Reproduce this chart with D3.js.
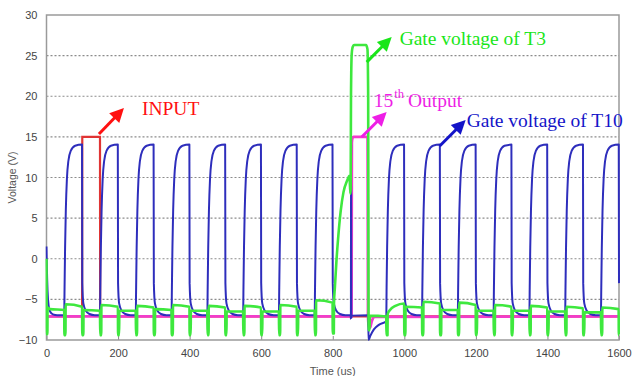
<!DOCTYPE html>
<html>
<head>
<meta charset="utf-8">
<script src="https://cdn.jsdelivr.net/npm/d3@7/dist/d3.min.js"></script>
<style>
  html, body { margin: 0; padding: 0; background: #fff; }
  svg { display: block; }
</style>
</head>
<body>
<svg id="chart" width="635" height="376"></svg>
<script>
// ---------------- DATA ----------------
const xTicks = [0, 200, 400, 600, 800, 1000, 1200, 1400, 1600];
const yTicks = [-10, -5, 0, 5, 10, 15, 20, 25, 30];
const yGrid  = [-5, 0, 5, 10, 15, 20, 25];
const xTitle = "Time (us)";
const yTitle = "Voltage (V)";

// INPUT (red)
const inputV = [[0,-7.1],[99.5,-7.1],[100,15],[149.5,15],[150,-7.1],[1600,-7.1]];

// 15th Output (magenta)
const output15 = [[0,-7.1],[852.5,-7.1],[853.3,14.3],[855,14.85],[858,15],[897.5,15],[898.5,-7],
  [900.5,-8.2],[904,-8.5],[909,-7.7],[916,-7.15],[1600,-7.1]];

// Gate voltage of T10 (blue)
const gateT10 = [
  [0,1.5],[1,-1],[3,-4],[6,-5.8],[10,-6.5],[18,-6.85],[30,-6.95],[49.5,-6.95],
  [50.5,-3.5],[52,1.5],[54,6],[57,9.8],[61,12],[68,13.3],[80,13.9],[99.3,14.05],[100,-3],[103,-5.5],[110,-6.4],[120,-6.8],[135,-6.95],[149.5,-6.95],
  [150.5,-3.5],[152,1.5],[154,6],[157,9.8],[161,12],[168,13.3],[180,13.9],[199.3,14.05],[200,-3],[203,-5.5],[210,-6.4],[220,-6.8],[235,-6.95],[249.5,-6.95],
  [250.5,-3.5],[252,1.5],[254,6],[257,9.8],[261,12],[268,13.3],[280,13.9],[299.3,14.05],[300,-3],[303,-5.5],[310,-6.4],[320,-6.8],[335,-6.95],[349.5,-6.95],
  [350.5,-3.5],[352,1.5],[354,6],[357,9.8],[361,12],[368,13.3],[380,13.9],[399.3,14.05],[400,-3],[403,-5.5],[410,-6.4],[420,-6.8],[435,-6.95],[449.5,-6.95],
  [450.5,-3.5],[452,1.5],[454,6],[457,9.8],[461,12],[468,13.3],[480,13.9],[499.3,14.05],[500,-3],[503,-5.5],[510,-6.4],[520,-6.8],[535,-6.95],[549.5,-6.95],
  [550.5,-3.5],[552,1.5],[554,6],[557,9.8],[561,12],[568,13.3],[580,13.9],[599.3,14.05],[600,-3],[603,-5.5],[610,-6.4],[620,-6.8],[635,-6.95],[649.5,-6.95],
  [650.5,-3.5],[652,1.5],[654,6],[657,9.8],[661,12],[668,13.3],[680,13.9],[699.3,14.05],[700,-3],[703,-5.5],[710,-6.4],[720,-6.8],[735,-6.95],[749.5,-6.95],
  [750.5,-3.5],[752,1.5],[754,6],[757,9.8],[761,12],[768,13.3],[780,13.9],[799.3,14.05],[800,-3],[803,-5.5],[810,-6.4],[820,-6.8],[835,-6.95],[850,-6.95],
  [850.7,-7.4],[851.2,14],[851.8,-7.3],[853,-7.0],[899.3,-6.95],[900,-10],[905,-9.5],[915,-8.7],[930,-8.1],[949.5,-7.7],
  [950.5,-3.5],[952,1.5],[954,6],[957,9.8],[961,12],[968,13.3],[980,13.9],[999.3,14.05],[1000,-3],[1003,-5.5],[1010,-6.4],[1020,-6.8],[1035,-6.95],[1049.5,-6.95],
  [1050.5,-3.5],[1052,1.5],[1054,6],[1057,9.8],[1061,12],[1068,13.3],[1080,13.9],[1099.3,14.05],[1100,-3],[1103,-5.5],[1110,-6.4],[1120,-6.8],[1135,-6.95],[1149.5,-6.95],
  [1150.5,-3.5],[1152,1.5],[1154,6],[1157,9.8],[1161,12],[1168,13.3],[1180,13.9],[1199.3,14.05],[1200,-3],[1203,-5.5],[1210,-6.4],[1220,-6.8],[1235,-6.95],[1249.5,-6.95],
  [1250.5,-3.5],[1252,1.5],[1254,6],[1257,9.8],[1261,12],[1268,13.3],[1280,13.9],[1299.3,14.05],[1300,-3],[1303,-5.5],[1310,-6.4],[1320,-6.8],[1335,-6.95],[1349.5,-6.95],
  [1350.5,-3.5],[1352,1.5],[1354,6],[1357,9.8],[1361,12],[1368,13.3],[1380,13.9],[1399.3,14.05],[1400,-3],[1403,-5.5],[1410,-6.4],[1420,-6.8],[1435,-6.95],[1449.5,-6.95],
  [1450.5,-3.5],[1452,1.5],[1454,6],[1457,9.8],[1461,12],[1468,13.3],[1480,13.9],[1499.3,14.05],[1500,-3],[1503,-5.5],[1510,-6.4],[1520,-6.8],[1535,-6.95],[1549.5,-6.95],
  [1550.5,-3.5],[1552,1.5],[1554,6],[1557,9.8],[1561,12],[1568,13.3],[1580,13.9],[1599.3,14.05],[1600,-3]
];

// Gate voltage of T3 (green)
const gateT3 = [
  [0,0],[0.5,-9.3],[2.5,-9.3],[3,-6.0],[10,-6.2],[49.5,-6.3],
  [50,-9.4],[53,-9.4],[53.5,-5.6],[99.5,-5.9],
  [100,-9.4],[103,-9.4],[103.5,-6.3],[149.5,-6.4],
  [150,-9.4],[153,-9.4],[153.5,-5.7],[199.5,-5.9],
  [200,-9.4],[203,-9.4],[203.5,-6.4],[249.5,-6.4],
  [250,-9.4],[253,-9.4],[253.5,-5.8],[299.5,-6.0],
  [300,-9.4],[303,-9.4],[303.5,-6.2],[349.5,-6.3],
  [350,-9.4],[353,-9.4],[353.5,-5.7],[399.5,-5.9],
  [400,-9.4],[403,-9.4],[403.5,-6.4],[449.5,-6.4],
  [450,-9.4],[453,-9.4],[453.5,-5.8],[499.5,-6.0],
  [500,-9.4],[503,-9.4],[503.5,-6.5],[549.5,-6.5],
  [550,-9.4],[553,-9.4],[553.5,-5.8],[599.5,-6.0],
  [600,-9.4],[603,-9.4],[603.5,-6.5],[649.5,-6.5],
  [650,-9.4],[653,-9.4],[653.5,-5.7],[699.5,-5.9],
  [700,-9.4],[703,-9.4],[703.5,-6.4],[749.5,-6.4],
  [750,-9.4],[753,-9.4],[753.5,-5.1],[799.5,-5.4],
  [800,-9.2],[803,-9.2],[803.5,-5.5],[806,-3.5],[810,-0.5],[815,2.5],[822,5.8],[830,8.2],[840,9.6],[847,10.2],
  [849,8],[850,8.5],[851,20],[853,25.2],[856,26.1],[860,26.3],[893,26.3],[897,25.8],[899,20],
  [900,-7],[900.5,-8.8],[903,-8.8],[903.5,-7.0],[949.5,-7.1],
  [950,-9.4],[953,-9.4],[953.5,-6.8],[960,-6.3],[975,-5.8],[999.5,-5.5],
  [1000,-9.4],[1003,-9.4],[1003.5,-5.9],[1049.5,-6.0],
  [1050,-9.4],[1053,-9.4],[1053.5,-5.3],[1099.5,-5.5],
  [1100,-9.4],[1103,-9.4],[1103.5,-6.3],[1149.5,-6.3],
  [1150,-9.4],[1153,-9.4],[1153.5,-5.4],[1199.5,-5.7],
  [1200,-9.4],[1203,-9.4],[1203.5,-6.4],[1249.5,-6.4],
  [1250,-9.4],[1253,-9.4],[1253.5,-5.7],[1299.5,-5.9],
  [1300,-9.4],[1303,-9.4],[1303.5,-6.4],[1349.5,-6.4],
  [1350,-9.4],[1353,-9.4],[1353.5,-5.8],[1399.5,-6.0],
  [1400,-9.4],[1403,-9.4],[1403.5,-6.5],[1449.5,-6.5],
  [1450,-9.4],[1453,-9.4],[1453.5,-5.9],[1499.5,-6.1],
  [1500,-9.4],[1503,-9.4],[1503.5,-6.6],[1549.5,-6.6],
  [1550,-9.4],[1553,-9.4],[1553.5,-6.0],[1599,-6.2],[1599.5,-9.4],[1600,-9.4]
];

// Annotation labels and arrows (in data units: time us, voltage V)
const labels = [
  { text: "INPUT", t: 266.7, v: 17.7, color: "#ff1010" },
  { text: "Gate voltage of T3", t: 986.9, v: 26.3, color: "#19e619" },
  { text: "Gate voltage of T10", t: 1174.2, v: 16.2, color: "#1414c8" }
];
const arrows = [
  { from: [146.6, 15.35], to: [216.4, 18.55], color: "#ff1010" },
  { from: [894.9, 24.2],  to: [964.7, 27.3],  color: "#19e619" },
  { from: [880.9, 14.98], to: [950.7, 18.06], color: "#ee1ee6" },
  { from: [1098.8, 13.88], to: [1171.4, 17.08], color: "#1414c8" }
];

// ---------------- DRAWING ----------------
const svg = d3.select("#chart");
const pLeft = 46.5, pRight = 619, pTop = 15, pBottom = 340;
const x = d3.scaleLinear().domain([0, 1600]).range([pLeft, pRight]);
const y = d3.scaleLinear().domain([-10, 30]).range([pBottom, pTop]);

svg.append("defs").append("clipPath").attr("id", "plotclip")
  .append("rect").attr("x", pLeft - 1).attr("y", pTop - 1)
  .attr("width", pRight - pLeft + 2).attr("height", pBottom - pTop + 2);

// gridlines
svg.append("g").selectAll("line").data(yGrid).join("line")
  .attr("x1", pLeft).attr("x2", pRight)
  .attr("y1", d => y(d)).attr("y2", d => y(d))
  .attr("stroke", "#8c8c8c").attr("stroke-width", 1.2)
  .attr("stroke-dasharray", "2,2");

// axes
const xAxis = d3.axisBottom(x).tickValues(xTicks).tickSize(-4).tickPadding(9).tickFormat(d3.format("d"));
const gx = svg.append("g").attr("transform", `translate(0,${pBottom})`).call(xAxis);
const yAxis = d3.axisLeft(y).tickValues(yTicks).tickSize(0).tickPadding(9).tickFormat(d3.format("d"));
const gy = svg.append("g").attr("transform", `translate(${pLeft},0)`).call(yAxis);
[gx, gy].forEach(g => {
  g.select(".domain").remove();
  g.selectAll(".tick line").attr("stroke", "#888");
  g.selectAll("text").attr("fill", "#444")
    .style("font-family", "'Liberation Sans', Arial, sans-serif").style("font-size", "11px");
});

// frame
svg.append("rect").attr("x", pLeft).attr("y", pTop)
  .attr("width", pRight - pLeft).attr("height", pBottom - pTop)
  .attr("fill", "none").attr("stroke", "#9a9a9a").attr("stroke-width", 1.5);

// axis titles
svg.append("text").attr("x", (pLeft + pRight) / 2).attr("y", 374.5)
  .attr("text-anchor", "middle").attr("fill", "#555")
  .style("font-family", "'Liberation Sans', Arial, sans-serif").style("font-size", "11px")
  .text(xTitle);
svg.append("text").attr("transform", `translate(16,${(pTop + pBottom) / 2}) rotate(-90)`)
  .attr("text-anchor", "middle").attr("fill", "#555")
  .style("font-family", "'Liberation Sans', Arial, sans-serif").style("font-size", "10.5px")
  .text(yTitle);

// series
const plot = svg.append("g").attr("clip-path", "url(#plotclip)");
const lineLin = d3.line().x(d => x(d[0])).y(d => y(d[1]));
const lineSmooth = d3.line().x(d => x(d[0])).y(d => y(d[1])).curve(d3.curveMonotoneX);

plot.append("path").datum(inputV).attr("d", lineLin)
  .attr("fill", "none").attr("stroke", "#e03434").attr("stroke-width", 2.2);
plot.append("path").datum(output15).attr("d", lineSmooth)
  .attr("fill", "none").attr("stroke", "#f23ccb").attr("stroke-width", 2.8);
plot.append("path").datum(gateT10).attr("d", lineSmooth)
  .attr("fill", "none").attr("stroke", "#2e2ebc").attr("stroke-width", 2)
  .attr("stroke-linejoin", "round");
plot.append("path").datum(gateT3).attr("d", lineSmooth)
  .attr("fill", "none").attr("stroke", "#3ee83e").attr("stroke-width", 2.6)
  .attr("stroke-linejoin", "round");

// annotations
const serif = "'Liberation Serif', 'Times New Roman', serif";
svg.append("g").selectAll("text").data(labels).join("text")
  .attr("x", d => x(d.t)).attr("y", d => y(d.v))
  .attr("fill", d => d.color)
  .style("font-family", serif).style("font-size", "19.5px")
  .text(d => d.text);

// 15th Output with superscript
const outT = svg.append("text").attr("x", x(914.5)).attr("y", y(18.68))
  .attr("fill", "#ee1ee6").style("font-family", serif).style("font-size", "19.5px");
outT.append("tspan").text("15");
outT.append("tspan").attr("dx", 1).attr("dy", -9).style("font-size", "12.5px").text("th");
outT.append("tspan").attr("dx", 4).attr("dy", 9).text("Output");

// arrows
const arrowG = svg.append("g");
arrows.forEach(a => {
  const x1 = x(a.from[0]), y1 = y(a.from[1]);
  const x2 = x(a.to[0]), y2 = y(a.to[1]);
  const dx = x2 - x1, dy = y2 - y1, len = Math.hypot(dx, dy);
  const ux = dx / len, uy = dy / len;
  const headL = 14, headW = 7;
  const bx = x2 - ux * headL, by = y2 - uy * headL;
  arrowG.append("line").attr("x1", x1).attr("y1", y1).attr("x2", bx + ux * 2).attr("y2", by + uy * 2)
    .attr("stroke", a.color).attr("stroke-width", 3);
  arrowG.append("path")
    .attr("d", `M${x2},${y2} L${bx - uy * headW},${by + ux * headW} L${bx + uy * headW},${by - ux * headW} Z`)
    .attr("fill", a.color);
});
</script>
</body>
</html>
